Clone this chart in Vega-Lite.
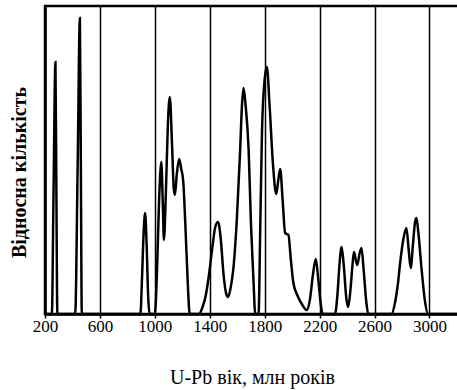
{
  "$schema": "https://vega.github.io/schema/vega-lite/v6.json",
  "width": 414,
  "height": 308,
  "autosize": {"type": "none"},
  "padding": {"left": 45, "top": 6, "right": 0, "bottom": 76},
  "background": "white",
  "config": {
    "view": {"stroke": "black", "strokeWidth": 2.5},
    "font": "Times New Roman, Liberation Serif, serif"
  },
  "data": {
    "values": [
      {"age": 200, "n": 0}, {"age": 250, "n": 0}, {"age": 262, "n": 120}, {"age": 276, "n": 252}, {"age": 283, "n": 120}, {"age": 290, "n": 0},
      {"age": 410, "n": 0}, {"age": 420, "n": 0}, {"age": 438, "n": 150}, {"age": 454, "n": 296}, {"age": 461, "n": 150}, {"age": 468, "n": 0},
      {"age": 895, "n": 0}, {"age": 905, "n": 30}, {"age": 918, "n": 80}, {"age": 929, "n": 101}, {"age": 940, "n": 70}, {"age": 952, "n": 15}, {"age": 962, "n": 0},
      {"age": 1000, "n": 0}, {"age": 1015, "n": 40}, {"age": 1030, "n": 110}, {"age": 1047, "n": 152}, {"age": 1058, "n": 110}, {"age": 1066, "n": 74},
      {"age": 1080, "n": 120}, {"age": 1095, "n": 190}, {"age": 1109, "n": 217}, {"age": 1125, "n": 170}, {"age": 1138, "n": 125}, {"age": 1146, "n": 119},
      {"age": 1160, "n": 140}, {"age": 1177, "n": 155}, {"age": 1192, "n": 145}, {"age": 1206, "n": 134}, {"age": 1222, "n": 90}, {"age": 1240, "n": 30},
      {"age": 1254, "n": 0}, {"age": 1320, "n": 0}, {"age": 1350, "n": 8}, {"age": 1370, "n": 18}, {"age": 1392, "n": 37}, {"age": 1420, "n": 68},
      {"age": 1440, "n": 87}, {"age": 1460, "n": 92}, {"age": 1480, "n": 75}, {"age": 1500, "n": 40}, {"age": 1520, "n": 20}, {"age": 1533, "n": 17},
      {"age": 1550, "n": 25}, {"age": 1575, "n": 50}, {"age": 1598, "n": 97}, {"age": 1620, "n": 160}, {"age": 1635, "n": 210}, {"age": 1646, "n": 226},
      {"age": 1660, "n": 210}, {"age": 1683, "n": 164}, {"age": 1700, "n": 90}, {"age": 1719, "n": 31}, {"age": 1731, "n": 0}, {"age": 1755, "n": 0},
      {"age": 1768, "n": 90}, {"age": 1780, "n": 181}, {"age": 1800, "n": 235}, {"age": 1816, "n": 247}, {"age": 1835, "n": 210}, {"age": 1860, "n": 150},
      {"age": 1884, "n": 120}, {"age": 1900, "n": 135}, {"age": 1913, "n": 145}, {"age": 1930, "n": 115}, {"age": 1949, "n": 81}, {"age": 1960, "n": 80},
      {"age": 1973, "n": 79}, {"age": 1990, "n": 55}, {"age": 2009, "n": 31}, {"age": 2040, "n": 18}, {"age": 2070, "n": 10}, {"age": 2106, "n": 4},
      {"age": 2130, "n": 15}, {"age": 2150, "n": 38}, {"age": 2172, "n": 55}, {"age": 2190, "n": 35}, {"age": 2210, "n": 8}, {"age": 2222, "n": 0},
      {"age": 2312, "n": 0}, {"age": 2330, "n": 20}, {"age": 2345, "n": 50}, {"age": 2360, "n": 67}, {"age": 2375, "n": 50}, {"age": 2395, "n": 15},
      {"age": 2408, "n": 7}, {"age": 2425, "n": 25}, {"age": 2440, "n": 50}, {"age": 2450, "n": 62}, {"age": 2462, "n": 55}, {"age": 2474, "n": 49},
      {"age": 2490, "n": 60}, {"age": 2505, "n": 66}, {"age": 2520, "n": 45}, {"age": 2540, "n": 12}, {"age": 2554, "n": 0}, {"age": 2723, "n": 0},
      {"age": 2750, "n": 12}, {"age": 2770, "n": 30}, {"age": 2783, "n": 47}, {"age": 2810, "n": 75}, {"age": 2832, "n": 86}, {"age": 2848, "n": 65},
      {"age": 2863, "n": 46}, {"age": 2880, "n": 70}, {"age": 2895, "n": 92}, {"age": 2905, "n": 96}, {"age": 2920, "n": 80}, {"age": 2941, "n": 47},
      {"age": 2965, "n": 15}, {"age": 2989, "n": 0}, {"age": 3215, "n": 0}
    ]
  },
  "mark": {"type": "line", "color": "black", "strokeWidth": 2.5, "interpolate": "monotone"},
  "encoding": {
    "x": {
      "field": "age", "type": "quantitative",
      "scale": {"domain": [200, 3215], "nice": false, "zero": false},
      "axis": {
        "values": [200, 600, 1000, 1400, 1800, 2200, 2600, 3000],
        "format": "d",
        "grid": true, "gridColor": "black", "gridWidth": 1.5, "gridOpacity": 1,
        "domainColor": "black", "domainWidth": 2.5,
        "tickColor": "black", "tickSize": 4, "tickWidth": 1.5,
        "labelFont": "Times New Roman, Liberation Serif, serif", "labelFontSize": 17, "labelColor": "black", "labelPadding": 0,
        "labelFlush": false,
        "title": "U-Pb вік, млн років",
        "titleFont": "Times New Roman, Liberation Serif, serif", "titleFontSize": 20, "titleFontWeight": "normal", "titleColor": "black",
        "titleBaseline": "alphabetic", "titleY": 69
      }
    },
    "y": {
      "field": "n", "type": "quantitative",
      "scale": {"domain": [0, 308], "nice": false},
      "axis": {
        "grid": false, "ticks": false, "labels": false,
        "domainColor": "black", "domainWidth": 2.5,
        "title": "Відносна кількість",
        "titleFont": "Times New Roman, Liberation Serif, serif", "titleFontSize": 20, "titleFontWeight": "bold", "titleColor": "black",
        "titleAngle": 270, "titleAlign": "center", "titleBaseline": "middle",
        "titleX": -26, "titleY": 166
      }
    }
  }
}
